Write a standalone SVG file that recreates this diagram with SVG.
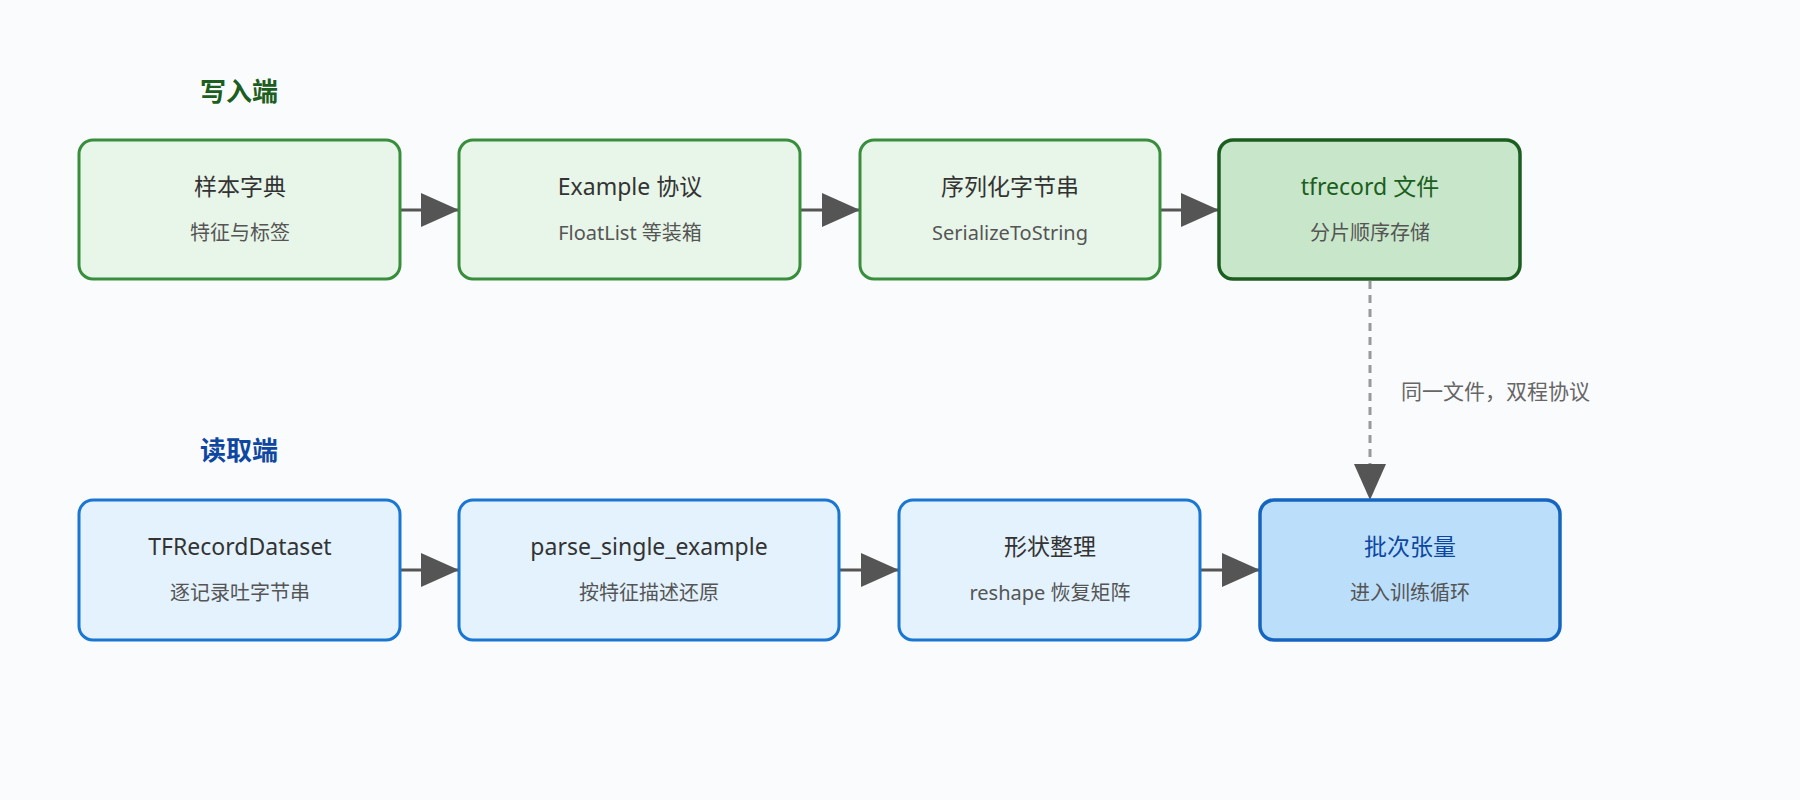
<svg xmlns="http://www.w3.org/2000/svg" width="1800" height="800" viewBox="0 0 1800 800">
<style>
text{font-family:"Noto Sans","Noto Sans CJK SC",sans-serif;text-anchor:middle}
.g{fill:#e8f5e9;stroke:#388e3c;stroke-width:3}
.gd{fill:#c8e6c9;stroke:#1b5e20;stroke-width:3.5}
.b{fill:#e3f2fd;stroke:#1976d2;stroke-width:3}
.bd{fill:#bbdefb;stroke:#1565c0;stroke-width:3.5}
.t{font-size:23px;fill:#333}
.s{font-size:20px;fill:#555}
.h{font-size:26px;font-weight:bold}
.c{stroke:#555;stroke-width:3;fill:none}
</style>
<defs>
<marker id="a" markerUnits="userSpaceOnUse" markerWidth="40" markerHeight="34" refX="38" refY="17" orient="auto"><path d="M0,0 L38,17 L0,34 Z" fill="#555"/></marker>
<marker id="ad" markerUnits="userSpaceOnUse" markerWidth="34" markerHeight="40" refX="17" refY="38" orient="auto-start-reverse"><path d="M0,0 L34,0 L17,38 Z" fill="#888" transform="rotate(-90 17 17) translate(0 0)"/></marker>
</defs>
<rect width="1800" height="800" fill="#fafbfd"/>
<text class="h" x="239" y="101" fill="#1b5e20">写入端</text>
<text class="h" x="239" y="460" fill="#0d47a1">读取端</text>
<g id="connectors">
<line class="c" x1="400" y1="210" x2="459" y2="210" marker-end="url(#a)"/>
<line class="c" x1="800" y1="210" x2="860" y2="210" marker-end="url(#a)"/>
<line class="c" x1="1160" y1="210" x2="1219" y2="210" marker-end="url(#a)"/>
<line class="c" x1="400" y1="570" x2="459" y2="570" marker-end="url(#a)"/>
<line class="c" x1="839" y1="570" x2="899" y2="570" marker-end="url(#a)"/>
<line class="c" x1="1200" y1="570" x2="1260" y2="570" marker-end="url(#a)"/>
<line x1="1370" y1="281" x2="1370" y2="466" stroke="#999" stroke-width="3" stroke-dasharray="8,6"/>
<path d="M1354,464 L1386,464 L1370,500 Z" fill="#555"/>
<text x="1401" y="399" style="font-size:21px;fill:#666;text-anchor:start">同一文件，双程协议</text>
</g>
<g id="n1"><rect class="g" x="79" y="140" width="321" height="139" rx="14"/><text class="t" x="240" y="195">样本字典</text><text class="s" x="240" y="240">特征与标签</text></g>
<g id="n2"><rect class="g" x="459" y="140" width="341" height="139" rx="14"/><text class="t" x="630" y="195">Example 协议</text><text class="s" x="630" y="240">FloatList 等装箱</text></g>
<g id="n3"><rect class="g" x="860" y="140" width="300" height="139" rx="14"/><text class="t" x="1010" y="195">序列化字节串</text><text class="s" x="1010" y="240">SerializeToString</text></g>
<g id="n4"><rect class="gd" x="1219" y="140" width="301" height="139" rx="14"/><text class="t" x="1370" y="195" style="fill:#1b5e20">tfrecord 文件</text><text class="s" x="1370" y="240">分片顺序存储</text></g>
<g id="n5"><rect class="b" x="79" y="500" width="321" height="140" rx="14"/><text class="t" x="240" y="555">TFRecordDataset</text><text class="s" x="240" y="600">逐记录吐字节串</text></g>
<g id="n6"><rect class="b" x="459" y="500" width="380" height="140" rx="14"/><text class="t" x="649" y="555">parse_single_example</text><text class="s" x="649" y="600">按特征描述还原</text></g>
<g id="n7"><rect class="b" x="899" y="500" width="301" height="140" rx="14"/><text class="t" x="1050" y="555">形状整理</text><text class="s" x="1050" y="600">reshape 恢复矩阵</text></g>
<g id="n8"><rect class="bd" x="1260" y="500" width="300" height="140" rx="14"/><text class="t" x="1410" y="555" style="fill:#0d47a1">批次张量</text><text class="s" x="1410" y="600">进入训练循环</text></g>
</svg>
